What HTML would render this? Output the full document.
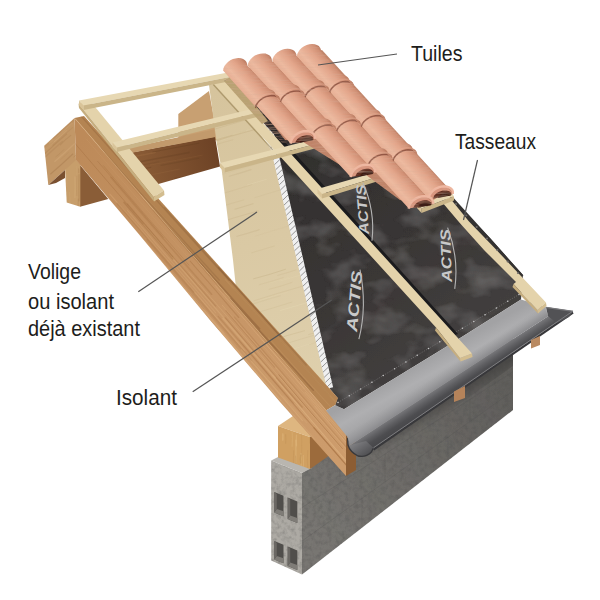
<!DOCTYPE html>
<html><head><meta charset="utf-8"><title>Toiture</title>
<style>html,body{margin:0;padding:0;background:#fff}svg{display:block}</style></head>
<body><svg width="600" height="600" viewBox="0 0 600 600">
<defs>
<filter id="nz" x="0" y="0" width="100%" height="100%">
 <feTurbulence type="fractalNoise" baseFrequency="0.22" numOctaves="4" seed="3" result="t"/>
 <feColorMatrix in="t" type="matrix" values="0 0 0 0 0.08  0 0 0 0 0.08  0 0 0 0 0.08  0.85 0 0 0 -0.34" result="a"/>
 <feComposite in="a" in2="SourceGraphic" operator="in" result="b"/>
 <feMerge><feMergeNode in="SourceGraphic"/><feMergeNode in="b"/></feMerge>
</filter>
<filter id="tz" x="0" y="0" width="100%" height="100%">
 <feTurbulence type="fractalNoise" baseFrequency="0.06 0.7" numOctaves="2" seed="5" result="t"/>
 <feColorMatrix in="t" type="matrix" values="0 0 0 0 0.68  0 0 0 0 0.42  0 0 0 0 0.31  0.8 0 0 0 -0.34" result="a"/>
 <feComposite in="a" in2="SourceGraphic" operator="in" result="b"/>
 <feMerge><feMergeNode in="SourceGraphic"/><feMergeNode in="b"/></feMerge>
</filter>
<filter id="wr" x="0" y="0" width="100%" height="100%">
 <feTurbulence type="fractalNoise" baseFrequency="0.03 0.045" numOctaves="3" seed="8" result="t"/>
 <feColorMatrix in="t" type="matrix" values="0 0 0 0 0.45  0 0 0 0 0.43  0 0 0 0 0.43  0.42 0 0 0 -0.19" result="a"/>
 <feComposite in="a" in2="SourceGraphic" operator="in" result="b"/>
 <feMerge><feMergeNode in="SourceGraphic"/><feMergeNode in="b"/></feMerge>
</filter>
<linearGradient id="wallg" gradientUnits="userSpaceOnUse" x1="302" y1="520" x2="512" y2="370">
 <stop offset="0" stop-color="#787672"/><stop offset="1" stop-color="#5f5d5a"/></linearGradient>
<linearGradient id="wsh" gradientUnits="userSpaceOnUse" x1="440" y1="402" x2="447" y2="414">
 <stop offset="0" stop-color="#3a3938" stop-opacity="0.55"/><stop offset="1" stop-color="#3a3938" stop-opacity="0"/></linearGradient>
<linearGradient id="purl" gradientUnits="userSpaceOnUse" x1="79" y1="190" x2="215" y2="150">
 <stop offset="0" stop-color="#9b6a40"/><stop offset="0.5" stop-color="#875934"/><stop offset="1" stop-color="#6e4326"/></linearGradient>
<linearGradient id="vol" gradientUnits="userSpaceOnUse" x1="215" y1="90" x2="320" y2="390">
 <stop offset="0" stop-color="#d6c49d"/><stop offset="0.5" stop-color="#dac9a4"/><stop offset="1" stop-color="#dfd0ad"/></linearGradient>
<linearGradient id="memb" gradientUnits="userSpaceOnUse" x1="300" y1="150" x2="480" y2="380">
 <stop offset="0" stop-color="#322f2e"/><stop offset="0.5" stop-color="#3a3736"/><stop offset="1" stop-color="#454241"/></linearGradient>
<linearGradient id="raft" gradientUnits="userSpaceOnUse" x1="80" y1="140" x2="346" y2="455">
 <stop offset="0" stop-color="#bd8a59"/><stop offset="0.5" stop-color="#c69566"/><stop offset="1" stop-color="#cd9c6c"/></linearGradient>
<linearGradient id="flash" gradientUnits="userSpaceOnUse" x1="400" y1="375" x2="414" y2="400">
 <stop offset="0" stop-color="#a2a2a4"/><stop offset="0.5" stop-color="#afafb1"/><stop offset="1" stop-color="#a4a4a6"/></linearGradient>
<linearGradient id="gutin" gradientUnits="userSpaceOnUse" x1="450" y1="380.1" x2="457.4" y2="391.5">
 <stop offset="0" stop-color="#77777a"/><stop offset="0.35" stop-color="#606063"/><stop offset="0.7" stop-color="#4d4d50"/><stop offset="1" stop-color="#48484b"/></linearGradient>
<linearGradient id="gutu" gradientUnits="userSpaceOnUse" x1="352" y1="440" x2="364" y2="457">
 <stop offset="0" stop-color="#8a8a8c"/><stop offset="0.5" stop-color="#6c6c6f"/><stop offset="1" stop-color="#505053"/></linearGradient>
<linearGradient id="flashe" gradientUnits="userSpaceOnUse" x1="443.5" y1="370.1" x2="450" y2="380.1">
 <stop offset="0" stop-color="#9a9a9c" stop-opacity="0"/><stop offset="1" stop-color="#8a8a8d" stop-opacity="1"/></linearGradient>
<linearGradient id="gut" gradientUnits="userSpaceOnUse" x1="420" y1="395" x2="434" y2="420">
 <stop offset="0" stop-color="#6f6f72"/><stop offset="0.35" stop-color="#4c4c4f"/><stop offset="1" stop-color="#3c3c3f"/></linearGradient>
<linearGradient id="tg3" gradientUnits="userSpaceOnUse" x1="295.0" y1="58.1" x2="314.2" y2="40.3"><stop offset="0" stop-color="#cf9074"/><stop offset="0.1" stop-color="#e8b095"/><stop offset="0.3" stop-color="#edbaa0"/><stop offset="0.62" stop-color="#e3a58a"/><stop offset="0.86" stop-color="#d08f74"/><stop offset="1" stop-color="#b4755b"/></linearGradient>
<linearGradient id="tg2" gradientUnits="userSpaceOnUse" x1="270.4" y1="62.8" x2="289.6" y2="45.0"><stop offset="0" stop-color="#cf9074"/><stop offset="0.1" stop-color="#e8b095"/><stop offset="0.3" stop-color="#edbaa0"/><stop offset="0.62" stop-color="#e3a58a"/><stop offset="0.86" stop-color="#d08f74"/><stop offset="1" stop-color="#b4755b"/></linearGradient>
<linearGradient id="tg1" gradientUnits="userSpaceOnUse" x1="245.8" y1="67.5" x2="265.0" y2="49.7"><stop offset="0" stop-color="#cf9074"/><stop offset="0.1" stop-color="#e8b095"/><stop offset="0.3" stop-color="#edbaa0"/><stop offset="0.62" stop-color="#e3a58a"/><stop offset="0.86" stop-color="#d08f74"/><stop offset="1" stop-color="#b4755b"/></linearGradient>
<linearGradient id="tg0" gradientUnits="userSpaceOnUse" x1="221.2" y1="72.2" x2="240.4" y2="54.4"><stop offset="0" stop-color="#cf9074"/><stop offset="0.1" stop-color="#e8b095"/><stop offset="0.3" stop-color="#edbaa0"/><stop offset="0.62" stop-color="#e3a58a"/><stop offset="0.86" stop-color="#d08f74"/><stop offset="1" stop-color="#b4755b"/></linearGradient><clipPath id="cpw"><polygon points="302.0,473.0 513.0,325.0 513.0,410.0 302.0,574.5"/></clipPath><clipPath id="cp1"><polygon points="278.0,426.0 310.0,437.0 310.0,469.0 278.0,457.5"/></clipPath><clipPath id="cp2"><polygon points="44.2,145.8 74.5,118.0 76.0,160.0 48.3,185.0"/></clipPath><clipPath id="cp3"><polygon points="65.0,167.5 72.5,161.7 80.0,170.0 80.0,206.7 66.7,202.5"/></clipPath><clipPath id="cp4"><polygon points="100.0,158.5 215.0,136.7 220.0,166.5 157.5,184.2 140.0,195.0"/></clipPath><clipPath id="cp5"><polygon points="209.0,85.0 224.0,81.0 276.0,157.0 331.0,392.0 318.0,400.0 236.0,288.0 233.0,260.0 221.7,170.0 216.7,143.0"/></clipPath><clipPath id="cp6"><polygon points="74.5,118.0 346.0,433.0 346.0,476.0 280.0,402.0 210.0,320.0 140.0,235.5 76.0,160.0"/></clipPath><clipPath id="cp7"><polygon points="74.5,118.0 84.0,116.0 338.0,398.0 335.3,405.0 326.0,410.5"/></clipPath></defs>
<rect width="600" height="600" fill="#ffffff"/>
<polygon points="302.0,473.0 513.0,325.0 513.0,410.0 302.0,574.5" fill="url(#wallg)" filter="url(#nz)"/>
<path d="M302,507.5 L513,371.7 M302,541.0 L513,390.9 M340,451.2 L340,483.1 M385,454.1 L385,481.9 M362,498.3 L362,527.7 M430,399.6 L430,425.1 M470,399.4 L470,421.5 M448,437.1 L448,460.7 M495,362.3 L495,383.3" clip-path="url(#cpw)" stroke="#4f4d4b" stroke-width="0.7" fill="none" opacity="0.3"/>
<polygon points="372.0,449.0 513.0,352.5 513.0,366.0 372.0,466.0" fill="url(#wsh)" />
<polygon points="271.2,460.5 302.0,473.0 302.0,574.5 271.2,560.5" fill="#adaaa4" filter="url(#nz)"/>
<polygon points="274.3,492.0 283.5,495.8 283.5,516.3 274.3,512.5" fill="#504e4b" />
<polygon points="276.8,509.0 283.5,511.3 283.5,516.3 274.3,512.5" fill="#7f7c77" />
<polygon points="274.3,492.0 276.8,494.0 276.8,509.0 274.3,512.5" fill="#6b6864" />
<polygon points="287.7,497.5 297.3,501.4 297.3,522.9 287.7,519.0" fill="#504e4b" />
<polygon points="290.2,515.5 297.3,517.9 297.3,522.9 287.7,519.0" fill="#7f7c77" />
<polygon points="287.7,497.5 290.2,499.5 290.2,515.5 287.7,519.0" fill="#6b6864" />
<polygon points="274.3,541.0 283.5,544.8 283.5,563.3 274.3,559.5" fill="#504e4b" />
<polygon points="276.8,556.0 283.5,558.3 283.5,563.3 274.3,559.5" fill="#7f7c77" />
<polygon points="274.3,541.0 276.8,543.0 276.8,556.0 274.3,559.5" fill="#6b6864" />
<polygon points="287.7,546.5 297.3,550.4 297.3,569.9 287.7,566.0" fill="#504e4b" />
<polygon points="290.2,562.5 297.3,564.9 297.3,569.9 287.7,566.0" fill="#7f7c77" />
<polygon points="287.7,546.5 290.2,548.5 290.2,562.5 287.7,566.0" fill="#6b6864" />
<polygon points="271.2,460.5 280.0,456.0 312.0,468.0 302.0,473.0" fill="#b9b6b0" />
<polygon points="278.0,426.0 293.0,416.0 330.0,428.0 310.0,437.0" fill="#deb680" />
<polygon points="278.0,426.0 310.0,437.0 310.0,469.0 278.0,457.5" fill="#d0a062" />
<polygon points="310.0,437.0 330.0,425.0 330.0,455.0 310.0,469.0" fill="#9c6b3c" />
<g clip-path="url(#cp1)" fill="none" stroke-linecap="round"><path d="M295.5,456.0 Q296.0,464.7 295.5,473.3" stroke="#a87a44" stroke-width="1.06" opacity="0.30"/><path d="M293.6,450.8 Q293.2,460.2 293.6,469.5" stroke="#a87a44" stroke-width="0.83" opacity="0.18"/><path d="M287.8,463.9 Q288.3,467.6 287.8,471.2" stroke="#f0cf98" stroke-width="1.22" opacity="0.31"/><path d="M309.5,426.4 Q309.6,434.7 309.5,443.1" stroke="#a87a44" stroke-width="0.77" opacity="0.17"/><path d="M295.9,440.1 Q296.0,451.5 295.9,462.9" stroke="#f0cf98" stroke-width="1.05" opacity="0.32"/><path d="M301.1,453.4 Q301.5,466.3 301.1,479.2" stroke="#f0cf98" stroke-width="1.28" opacity="0.24"/><path d="M300.8,455.2 Q300.1,459.1 300.8,463.0" stroke="#a87a44" stroke-width="1.43" opacity="0.25"/><path d="M282.9,433.7 Q283.0,436.9 282.9,440.2" stroke="#f0cf98" stroke-width="1.02" opacity="0.40"/><path d="M307.7,450.4 Q307.0,459.7 307.7,469.0" stroke="#a87a44" stroke-width="0.60" opacity="0.24"/><path d="M285.7,434.6 Q286.2,439.0 285.7,443.4" stroke="#a87a44" stroke-width="0.57" opacity="0.35"/><path d="M292.1,431.2 Q292.7,438.8 292.1,446.4" stroke="#f0cf98" stroke-width="0.64" opacity="0.31"/><path d="M296.5,435.1 Q296.0,440.4 296.5,445.7" stroke="#f0cf98" stroke-width="1.38" opacity="0.23"/><path d="M303.3,455.3 Q303.7,462.4 303.3,469.4" stroke="#f0cf98" stroke-width="0.61" opacity="0.40"/><path d="M301.7,434.5 Q301.6,445.2 301.7,455.9" stroke="#a87a44" stroke-width="0.58" opacity="0.18"/></g>
<polygon points="178.3,114.0 209.0,91.0 218.0,140.0 178.3,147.0" fill="#c8a072" />
<polygon points="100.0,158.5 215.0,136.7 220.0,166.5 157.5,184.2 140.0,195.0" fill="url(#purl)" />
<polygon points="96.0,155.0 214.0,129.5 215.5,137.0 100.0,158.8" fill="#c29a6c" />
<polygon points="80.0,165.0 108.3,199.0 80.0,206.7" fill="#8a5d37" />
<polygon points="65.0,167.5 72.5,161.7 76.0,159.5 80.3,164.5 80.3,206.7 66.7,202.5" fill="#c79e6b" />
<polygon points="44.2,145.8 74.5,118.0 76.0,160.0 48.3,185.0" fill="#c29767" />
<polygon points="48.3,185.0 65.0,170.0 65.0,178.0 56.0,183.0" fill="#7a5030" />
<g clip-path="url(#cp2)" fill="none" stroke-linecap="round"><path d="M60.4,144.8 Q65.1,139.6 70.8,135.4" stroke="#9c6c40" stroke-width="1.09" opacity="0.22"/><path d="M55.9,156.8 Q60.2,153.6 63.8,149.6" stroke="#9c6c40" stroke-width="0.60" opacity="0.23"/><path d="M54.4,141.5 Q60.9,136.6 66.4,130.7" stroke="#e0b98a" stroke-width="1.13" opacity="0.22"/><path d="M35.3,155.3 Q48.4,144.1 60.9,132.3" stroke="#9c6c40" stroke-width="0.63" opacity="0.20"/><path d="M52.9,145.3 Q62.3,135.9 72.6,127.6" stroke="#9c6c40" stroke-width="1.10" opacity="0.15"/><path d="M44.8,153.7 Q55.4,143.7 66.6,134.1" stroke="#9c6c40" stroke-width="1.14" opacity="0.24"/><path d="M50.6,174.0 Q61.9,164.3 72.8,154.0" stroke="#9c6c40" stroke-width="1.08" opacity="0.32"/><path d="M34.1,166.9 Q48.2,154.2 62.3,141.5" stroke="#9c6c40" stroke-width="1.33" opacity="0.17"/><path d="M53.7,138.4 Q64.7,128.9 75.2,119.0" stroke="#9c6c40" stroke-width="1.46" opacity="0.21"/><path d="M54.9,161.4 Q64.9,152.8 74.5,143.8" stroke="#e0b98a" stroke-width="1.54" opacity="0.24"/><path d="M49.5,143.1 Q60.5,133.0 71.8,123.1" stroke="#e0b98a" stroke-width="1.40" opacity="0.20"/><path d="M60.7,159.5 Q64.8,156.3 68.3,152.6" stroke="#9c6c40" stroke-width="0.63" opacity="0.15"/><path d="M44.5,150.6 Q50.8,145.1 57.0,139.4" stroke="#e0b98a" stroke-width="0.59" opacity="0.23"/><path d="M73.9,156.9 Q86.7,146.2 98.7,134.6" stroke="#9c6c40" stroke-width="0.96" opacity="0.22"/></g>
<g clip-path="url(#cp3)" fill="none" stroke-linecap="round"><path d="M76.6,163.1 Q75.9,176.2 76.6,189.3" stroke="#e0b98a" stroke-width="0.59" opacity="0.16"/><path d="M76.9,175.9 Q76.4,185.7 76.9,195.6" stroke="#9c6c40" stroke-width="1.04" opacity="0.15"/><path d="M78.7,161.3 Q78.8,167.1 78.7,172.8" stroke="#9c6c40" stroke-width="0.95" opacity="0.28"/><path d="M78.3,199.2 Q78.1,205.2 78.3,211.2" stroke="#9c6c40" stroke-width="1.18" opacity="0.19"/><path d="M74.9,176.9 Q75.5,187.2 74.9,197.6" stroke="#e0b98a" stroke-width="1.49" opacity="0.22"/><path d="M79.0,174.8 Q78.7,187.7 79.0,200.7" stroke="#9c6c40" stroke-width="1.54" opacity="0.22"/><path d="M66.8,174.3 Q67.4,180.5 66.8,186.8" stroke="#e0b98a" stroke-width="0.65" opacity="0.26"/><path d="M69.6,192.4 Q70.2,202.9 69.6,213.4" stroke="#e0b98a" stroke-width="1.05" opacity="0.16"/></g>
<g clip-path="url(#cp4)" fill="none" stroke-linecap="round"><path d="M113.5,176.4 Q131.9,173.4 150.1,169.4" stroke="#a87548" stroke-width="0.51" opacity="0.28"/><path d="M152.8,152.0 Q175.7,147.5 198.7,143.2" stroke="#5c3a1e" stroke-width="0.92" opacity="0.33"/><path d="M127.7,185.2 Q140.4,182.9 153.1,180.4" stroke="#5c3a1e" stroke-width="1.06" opacity="0.38"/><path d="M174.5,178.4 Q193.1,175.2 211.6,171.3" stroke="#5c3a1e" stroke-width="0.82" opacity="0.32"/><path d="M129.0,171.6 Q139.8,169.0 150.8,167.4" stroke="#5c3a1e" stroke-width="0.81" opacity="0.35"/><path d="M105.5,196.6 Q136.9,190.5 168.3,184.6" stroke="#5c3a1e" stroke-width="1.04" opacity="0.17"/><path d="M166.8,185.7 Q178.3,183.1 189.9,181.3" stroke="#5c3a1e" stroke-width="1.14" opacity="0.37"/><path d="M154.1,148.5 Q165.0,147.1 175.7,144.4" stroke="#5c3a1e" stroke-width="0.59" opacity="0.28"/><path d="M161.0,165.4 Q179.9,161.9 198.8,158.1" stroke="#5c3a1e" stroke-width="1.14" opacity="0.20"/><path d="M164.1,188.6 Q174.2,187.4 184.1,184.7" stroke="#a87548" stroke-width="0.66" opacity="0.22"/><path d="M178.6,187.5 Q190.2,184.6 202.1,183.0" stroke="#a87548" stroke-width="0.76" opacity="0.31"/><path d="M150.2,165.0 Q176.4,160.6 202.4,155.1" stroke="#a87548" stroke-width="0.60" opacity="0.24"/><path d="M138.8,176.9 Q159.2,173.4 179.4,169.1" stroke="#a87548" stroke-width="1.13" opacity="0.16"/><path d="M119.0,169.4 Q138.9,165.8 158.7,161.8" stroke="#5c3a1e" stroke-width="0.86" opacity="0.18"/><path d="M97.2,163.6 Q126.2,158.4 155.1,152.5" stroke="#a87548" stroke-width="1.39" opacity="0.28"/><path d="M133.6,163.0 Q161.2,157.6 189.0,152.4" stroke="#5c3a1e" stroke-width="1.56" opacity="0.26"/></g>
<polygon points="209.0,85.0 224.0,81.0 276.0,157.0 331.0,392.0 318.0,400.0 236.0,288.0 233.0,260.0 221.7,170.0 216.7,143.0" fill="url(#vol)" />
<g clip-path="url(#cp5)" fill="none" stroke-linecap="round"><path d="M255.1,236.2 Q274.3,230.1 293.6,224.6" stroke="#b9a274" stroke-width="0.41" opacity="0.19"/><path d="M283.3,344.5 Q303.1,338.4 323.0,332.6" stroke="#b9a274" stroke-width="0.93" opacity="0.15"/><path d="M191.6,146.7 Q215.2,139.3 239.1,132.4" stroke="#efe2bd" stroke-width="0.46" opacity="0.24"/><path d="M213.0,224.5 Q235.5,217.1 258.2,210.9" stroke="#b9a274" stroke-width="1.13" opacity="0.21"/><path d="M272.9,409.1 Q297.4,401.9 321.9,394.4" stroke="#b9a274" stroke-width="0.51" opacity="0.18"/><path d="M192.3,146.9 Q212.2,140.8 232.2,134.9" stroke="#b9a274" stroke-width="1.05" opacity="0.19"/><path d="M253.6,278.8 Q269.7,274.7 285.5,269.3" stroke="#b9a274" stroke-width="0.98" opacity="0.29"/><path d="M260.1,300.4 Q273.7,295.9 287.6,292.2" stroke="#efe2bd" stroke-width="0.94" opacity="0.14"/><path d="M254.9,197.6 Q271.4,192.5 288.0,187.6" stroke="#b9a274" stroke-width="0.42" opacity="0.27"/><path d="M251.6,252.7 Q262.9,249.4 274.2,245.9" stroke="#b9a274" stroke-width="1.02" opacity="0.14"/><path d="M192.9,151.7 Q212.6,145.1 232.8,139.8" stroke="#b9a274" stroke-width="0.68" opacity="0.23"/><path d="M237.0,236.3 Q248.3,233.6 259.2,229.6" stroke="#b9a274" stroke-width="1.17" opacity="0.21"/><path d="M206.8,143.9 Q230.7,136.0 255.0,129.5" stroke="#b9a274" stroke-width="1.00" opacity="0.28"/><path d="M216.9,175.9 Q238.2,169.7 259.5,163.1" stroke="#b9a274" stroke-width="0.41" opacity="0.13"/><path d="M290.8,402.5 Q316.4,395.4 341.7,387.3" stroke="#b9a274" stroke-width="0.66" opacity="0.26"/><path d="M269.1,289.3 Q280.8,286.5 292.0,282.4" stroke="#b9a274" stroke-width="0.90" opacity="0.17"/><path d="M279.7,374.8 Q289.9,371.7 300.1,368.6" stroke="#efe2bd" stroke-width="0.62" opacity="0.29"/><path d="M251.8,314.2 Q271.9,308.4 291.9,302.1" stroke="#b9a274" stroke-width="0.60" opacity="0.24"/><path d="M206.6,131.5 Q230.0,124.6 253.4,117.5" stroke="#b9a274" stroke-width="0.75" opacity="0.30"/><path d="M279.8,281.0 Q304.0,274.4 327.8,266.6" stroke="#efe2bd" stroke-width="0.73" opacity="0.23"/><path d="M268.9,341.4 Q286.6,335.4 304.6,330.7" stroke="#b9a274" stroke-width="0.99" opacity="0.22"/><path d="M280.2,310.5 Q304.1,303.8 327.7,296.3" stroke="#efe2bd" stroke-width="1.13" opacity="0.22"/><path d="M234.9,209.2 Q244.0,206.5 253.0,203.7" stroke="#b9a274" stroke-width="1.15" opacity="0.24"/><path d="M269.3,283.2 Q278.8,280.2 288.4,277.5" stroke="#efe2bd" stroke-width="0.72" opacity="0.16"/><path d="M212.4,196.5 Q232.3,190.9 251.9,184.6" stroke="#b9a274" stroke-width="0.65" opacity="0.25"/><path d="M253.9,300.8 Q278.0,293.1 302.4,286.2" stroke="#b9a274" stroke-width="0.79" opacity="0.20"/><path d="M253.2,303.8 Q266.6,299.5 280.2,295.7" stroke="#b9a274" stroke-width="1.16" opacity="0.12"/><path d="M229.2,176.2 Q240.2,173.2 251.1,169.6" stroke="#b9a274" stroke-width="1.14" opacity="0.21"/><path d="M224.9,136.7 Q240.8,132.5 256.3,127.2" stroke="#efe2bd" stroke-width="0.60" opacity="0.20"/><path d="M288.2,350.4 Q299.7,347.2 311.0,343.6" stroke="#efe2bd" stroke-width="0.72" opacity="0.24"/><path d="M305.2,394.3 Q322.6,389.0 339.9,383.8" stroke="#b9a274" stroke-width="0.99" opacity="0.18"/><path d="M218.0,207.8 Q230.7,203.3 243.7,200.0" stroke="#b9a274" stroke-width="0.84" opacity="0.17"/><path d="M308.7,334.5 Q321.4,331.3 333.7,327.0" stroke="#b9a274" stroke-width="0.71" opacity="0.28"/><path d="M247.2,185.1 Q256.7,182.1 266.3,179.4" stroke="#efe2bd" stroke-width="0.89" opacity="0.26"/><path d="M259.3,284.7 Q271.5,281.5 283.4,277.5" stroke="#b9a274" stroke-width="0.71" opacity="0.19"/><path d="M207.7,144.4 Q218.8,141.6 229.7,137.8" stroke="#efe2bd" stroke-width="0.82" opacity="0.13"/><path d="M275.2,368.9 Q297.6,362.7 319.6,355.5" stroke="#efe2bd" stroke-width="0.64" opacity="0.14"/><path d="M309.6,344.5 Q320.6,340.7 331.9,337.8" stroke="#b9a274" stroke-width="0.65" opacity="0.12"/><path d="M205.0,143.0 Q225.5,137.4 245.6,130.8" stroke="#b9a274" stroke-width="0.55" opacity="0.18"/><path d="M277.7,275.4 Q286.9,272.9 296.0,269.9" stroke="#b9a274" stroke-width="0.76" opacity="0.21"/></g>
<polygon points="266.0,118.0 300.0,110.0 449.0,197.0 490.0,238.0 523.0,275.0 521.0,299.5 480.0,325.5 445.0,347.5 400.0,375.0 344.0,409.3 335.0,405.5 337.5,398.0 330.0,389.0 275.0,150.0" fill="url(#memb)" filter="url(#wr)"/>
<path d="M267.5,120 L276,157 L330,388" fill="none" stroke="#f0f0f0" stroke-width="6.4"/>
<path d="M270.2,117.4 L264.8,122.6 M271.4,122.5 L266.0,127.6 M272.5,127.6 L267.1,132.7 M273.7,132.6 L268.3,137.8 M274.9,137.7 L269.5,142.8 M276.0,142.8 L270.6,147.9 M277.2,147.8 L271.8,153.0 M278.3,152.9 L273.0,158.0 M278.7,154.4 L273.3,159.6 M279.9,159.5 L274.5,164.6 M281.1,164.5 L275.7,169.7 M282.2,169.6 L276.9,174.8 M283.4,174.7 L278.1,179.8 M284.6,179.7 L279.2,184.9 M285.8,184.8 L280.4,190.0 M287.0,189.9 L281.6,195.0 M288.2,194.9 L282.8,200.1 M289.3,200.0 L284.0,205.1 M290.5,205.1 L285.2,210.2 M291.7,210.1 L286.3,215.3 M292.9,215.2 L287.5,220.3 M294.1,220.2 L288.7,225.4 M295.3,225.3 L289.9,230.5 M296.4,230.4 L291.1,235.5 M297.6,235.4 L292.3,240.6 M298.8,240.5 L293.4,245.7 M300.0,245.6 L294.6,250.7 M301.2,250.6 L295.8,255.8 M302.4,255.7 L297.0,260.8 M303.5,260.8 L298.2,265.9 M304.7,265.8 L299.4,271.0 M305.9,270.9 L300.5,276.0 M307.1,275.9 L301.7,281.1 M308.3,281.0 L302.9,286.2 M309.5,286.1 L304.1,291.2 M310.6,291.1 L305.3,296.3 M311.8,296.2 L306.5,301.4 M313.0,301.3 L307.6,306.4 M314.2,306.3 L308.8,311.5 M315.4,311.4 L310.0,316.5 M316.6,316.5 L311.2,321.6 M317.7,321.5 L312.4,326.7 M318.9,326.6 L313.6,331.7 M320.1,331.6 L314.7,336.8 M321.3,336.7 L315.9,341.9 M322.5,341.8 L317.1,346.9 M323.7,346.8 L318.3,352.0 M324.8,351.9 L319.5,357.1 M326.0,357.0 L320.7,362.1 M327.2,362.0 L321.8,367.2 M328.4,367.1 L323.0,372.2 M329.6,372.2 L324.2,377.3 M330.8,377.2 L325.4,382.4 M331.9,382.3 L326.6,387.4" fill="none" stroke="#7d7d7d" stroke-width="1.0" opacity="0.8"/>
<polygon points="74.5,118.0 84.0,116.0 338.0,398.0 335.3,405.0 326.0,410.5" fill="#b48452" />
<polygon points="74.5,118.0 346.0,433.0 346.0,476.0 280.0,402.0 210.0,320.0 140.0,235.5 76.0,160.0" fill="url(#raft)" />
<g clip-path="url(#cp6)" fill="none" stroke-linecap="round"><path d="M222.8,318.4 Q294.1,400.1 364.4,482.8" stroke="#e3b785" stroke-width="1.31" opacity="0.38"/><path d="M182.6,264.6 Q267.0,362.0 350.8,459.8" stroke="#e3b785" stroke-width="0.62" opacity="0.27"/><path d="M53.3,118.2 Q112.8,187.8 172.9,256.9" stroke="#9a6638" stroke-width="0.81" opacity="0.38"/><path d="M86.3,139.0 Q160.3,225.7 235.2,311.8" stroke="#e3b785" stroke-width="0.64" opacity="0.16"/><path d="M314.7,406.2 Q350.8,448.2 387.0,490.1" stroke="#e3b785" stroke-width="0.82" opacity="0.39"/><path d="M294.3,403.9 Q329.9,444.8 365.2,486.1" stroke="#e3b785" stroke-width="1.56" opacity="0.37"/><path d="M97.6,161.3 Q131.1,199.0 163.4,237.6" stroke="#9a6638" stroke-width="0.83" opacity="0.30"/><path d="M127.4,210.3 Q171.7,261.6 215.8,312.9" stroke="#e3b785" stroke-width="1.03" opacity="0.24"/><path d="M313.9,427.8 Q340.1,457.2 365.3,487.5" stroke="#9a6638" stroke-width="1.32" opacity="0.36"/><path d="M190.2,288.2 Q235.8,342.1 282.4,395.1" stroke="#9a6638" stroke-width="0.55" opacity="0.20"/><path d="M261.2,343.6 Q332.9,426.8 404.7,510.0" stroke="#e3b785" stroke-width="0.88" opacity="0.25"/><path d="M248.5,355.3 Q277.1,389.5 306.7,422.8" stroke="#e3b785" stroke-width="1.45" opacity="0.17"/><path d="M215.3,285.5 Q259.6,337.0 304.1,388.5" stroke="#e3b785" stroke-width="0.87" opacity="0.38"/><path d="M103.3,165.6 Q145.5,215.8 188.9,265.0" stroke="#9a6638" stroke-width="0.66" opacity="0.33"/><path d="M329.9,421.7 Q354.9,450.9 380.2,480.0" stroke="#9a6638" stroke-width="0.95" opacity="0.22"/><path d="M147.0,239.8 Q199.0,300.1 251.0,360.4" stroke="#9a6638" stroke-width="1.51" opacity="0.17"/><path d="M241.3,349.8 Q272.3,384.9 302.5,420.7" stroke="#e3b785" stroke-width="1.19" opacity="0.35"/><path d="M278.8,374.8 Q310.2,412.1 342.4,448.6" stroke="#9a6638" stroke-width="1.00" opacity="0.40"/><path d="M159.7,261.4 Q211.7,321.4 263.4,381.7" stroke="#e3b785" stroke-width="1.03" opacity="0.23"/><path d="M305.0,392.1 Q351.9,446.2 398.5,500.6" stroke="#e3b785" stroke-width="1.19" opacity="0.28"/><path d="M262.3,339.9 Q301.8,386.5 342.1,432.5" stroke="#e3b785" stroke-width="0.90" opacity="0.35"/><path d="M218.2,316.4 Q283.9,392.6 349.6,468.8" stroke="#9a6638" stroke-width="1.27" opacity="0.23"/><path d="M109.9,194.1 Q177.9,271.9 244.8,350.7" stroke="#e3b785" stroke-width="1.21" opacity="0.30"/><path d="M225.3,317.9 Q263.4,362.8 302.2,407.1" stroke="#9a6638" stroke-width="1.40" opacity="0.32"/><path d="M222.3,305.3 Q286.3,380.4 351.1,454.7" stroke="#e3b785" stroke-width="0.89" opacity="0.36"/><path d="M239.3,340.5 Q325.1,440.9 411.8,540.7" stroke="#9a6638" stroke-width="1.08" opacity="0.20"/><path d="M208.2,315.8 Q261.3,378.1 315.0,439.7" stroke="#e3b785" stroke-width="1.30" opacity="0.20"/><path d="M143.8,224.8 Q209.3,301.4 275.4,377.5" stroke="#e3b785" stroke-width="1.35" opacity="0.31"/><path d="M182.2,244.2 Q214.5,282.0 247.2,319.6" stroke="#e3b785" stroke-width="0.74" opacity="0.32"/><path d="M117.2,169.4 Q170.6,230.6 223.2,292.5" stroke="#9a6638" stroke-width="0.65" opacity="0.24"/><path d="M190.2,261.1 Q214.8,289.0 238.8,317.5" stroke="#9a6638" stroke-width="1.17" opacity="0.30"/><path d="M159.5,257.8 Q181.1,283.6 203.5,308.8" stroke="#9a6638" stroke-width="0.95" opacity="0.19"/><path d="M225.9,310.7 Q250.1,339.0 274.6,367.2" stroke="#9a6638" stroke-width="1.10" opacity="0.24"/><path d="M128.6,224.5 Q204.9,312.2 280.4,400.5" stroke="#e3b785" stroke-width="1.21" opacity="0.25"/><path d="M272.9,375.4 Q331.6,444.3 391.1,512.5" stroke="#e3b785" stroke-width="1.17" opacity="0.24"/><path d="M217.9,284.4 Q246.5,318.5 276.0,351.8" stroke="#e3b785" stroke-width="0.65" opacity="0.31"/><path d="M110.8,177.3 Q160.7,236.2 211.6,294.2" stroke="#9a6638" stroke-width="1.57" opacity="0.25"/><path d="M101.8,191.4 Q163.2,262.2 224.2,333.4" stroke="#e3b785" stroke-width="1.05" opacity="0.26"/><path d="M109.7,203.7 Q164.1,266.7 218.4,329.8" stroke="#9a6638" stroke-width="0.63" opacity="0.31"/><path d="M234.5,317.0 Q307.5,402.7 381.4,487.5" stroke="#9a6638" stroke-width="1.09" opacity="0.23"/><path d="M117.4,203.4 Q155.4,247.8 193.7,291.9" stroke="#9a6638" stroke-width="1.59" opacity="0.23"/><path d="M188.8,272.2 Q253.5,346.8 317.7,421.8" stroke="#e3b785" stroke-width="0.63" opacity="0.34"/><path d="M127.5,203.8 Q171.3,255.2 215.7,306.1" stroke="#9a6638" stroke-width="1.01" opacity="0.25"/><path d="M124.1,202.4 Q148.4,230.7 172.8,259.0" stroke="#9a6638" stroke-width="1.51" opacity="0.37"/><path d="M153.4,210.2 Q226.7,295.2 299.9,380.2" stroke="#9a6638" stroke-width="1.28" opacity="0.31"/><path d="M140.7,236.3 Q187.6,291.6 235.4,346.2" stroke="#e3b785" stroke-width="0.72" opacity="0.23"/></g>
<g clip-path="url(#cp7)" fill="none" stroke-linecap="round"><path d="M150.2,210.0 Q217.7,284.9 285.1,359.8" stroke="#7a5030" stroke-width="0.50" opacity="0.32"/><path d="M230.8,298.6 Q272.2,344.4 313.3,390.2" stroke="#7a5030" stroke-width="1.38" opacity="0.34"/><path d="M100.6,148.3 Q159.6,214.5 219.2,280.0" stroke="#7a5030" stroke-width="1.39" opacity="0.22"/><path d="M122.2,176.1 Q191.0,252.4 259.7,328.8" stroke="#7a5030" stroke-width="1.38" opacity="0.35"/><path d="M218.5,267.7 Q249.8,301.8 280.4,336.5" stroke="#7a5030" stroke-width="1.55" opacity="0.30"/><path d="M268.5,337.8 Q308.8,383.0 349.5,427.7" stroke="#c99a68" stroke-width="1.07" opacity="0.31"/><path d="M60.3,110.5 Q136.7,195.5 213.3,280.3" stroke="#7a5030" stroke-width="1.16" opacity="0.23"/><path d="M164.5,207.7 Q235.7,286.1 306.2,365.0" stroke="#7a5030" stroke-width="1.23" opacity="0.23"/><path d="M117.7,165.9 Q144.9,196.8 172.8,227.1" stroke="#c99a68" stroke-width="1.27" opacity="0.16"/><path d="M272.3,325.5 Q311.3,368.6 350.1,411.9" stroke="#c99a68" stroke-width="0.84" opacity="0.25"/><path d="M73.3,107.4 Q150.6,194.3 229.0,280.3" stroke="#7a5030" stroke-width="1.32" opacity="0.26"/><path d="M225.4,279.4 Q301.7,364.8 378.7,449.6" stroke="#c99a68" stroke-width="1.48" opacity="0.27"/><path d="M159.4,220.3 Q208.8,275.7 258.7,330.5" stroke="#c99a68" stroke-width="0.95" opacity="0.18"/><path d="M233.6,289.0 Q281.5,342.3 329.5,395.4" stroke="#7a5030" stroke-width="0.52" opacity="0.19"/></g>
<polygon points="346.0,433.0 356.0,438.0 356.0,470.0 346.0,476.0" fill="#8c5d33" />
<path d="M75.5,119 L346,433.5" fill="none" stroke="#d9b080" stroke-width="0.8" opacity="0.8"/>
<path d="M373.5,449.5 L573,312.5" fill="none" stroke="#38383b" stroke-width="2.2"/>
<path d="M347.5,437 L348,445 Q350,452 358,456 Q366,457.5 371,452.5 L373.5,448 L573,311 L548,316.3 L350.5,445 Z" fill="url(#gutin)" />
<path d="M347.5,437 L348,445 Q350,452 358,456 Q366,457.5 371,452.5 L373.5,448 L366,441 L350.5,445 Z" fill="url(#gutu)" />
<path d="M347.6,438 L348,445 Q350,452 358,456 Q366,457.5 371,452.5 L373.3,448.4" fill="none" stroke="#39393c" stroke-width="1.3"/>
<polygon points="335.3,405.0 344.0,409.3 400.0,375.0 445.0,347.5 480.0,325.5 521.0,299.5 546.0,307.0 548.0,316.3 350.5,445.0 347.5,437.0 326.0,410.5" fill="url(#flash)" />
<polygon points="345.0,432.0 544.0,305.0 548.0,316.3 350.5,445.0" fill="url(#flashe)" />
<polygon points="546.0,307.0 573.0,311.0 569.0,317.0 557.0,323.0 548.0,316.3" fill="#525255" />
<path d="M546,307.3 L573,311.3" fill="none" stroke="#77777a" stroke-width="1.2"/>
<path d="M373.5,447.8 L573,311" fill="none" stroke="#7c7c7f" stroke-width="1"/>
<polygon points="531.0,340.0 540.0,336.0 540.0,345.0 531.0,348.5" fill="#b98a62" />
<polygon points="454.0,391.5 465.0,386.0 465.0,398.0 454.0,402.0" fill="#b5835a" />
<circle cx="338.0" cy="402.5" r="0.8" fill="#c8c8c8"/>
<circle cx="349.3" cy="395.8" r="0.8" fill="#c8c8c8"/>
<circle cx="360.6" cy="389.0" r="0.8" fill="#c8c8c8"/>
<circle cx="371.9" cy="382.2" r="0.8" fill="#c8c8c8"/>
<circle cx="383.2" cy="375.5" r="0.8" fill="#c8c8c8"/>
<circle cx="394.6" cy="368.8" r="0.8" fill="#c8c8c8"/>
<circle cx="405.9" cy="362.0" r="0.8" fill="#c8c8c8"/>
<circle cx="417.2" cy="355.2" r="0.8" fill="#c8c8c8"/>
<circle cx="428.5" cy="348.5" r="0.8" fill="#c8c8c8"/>
<circle cx="439.8" cy="341.8" r="0.8" fill="#c8c8c8"/>
<circle cx="451.1" cy="335.0" r="0.8" fill="#c8c8c8"/>
<circle cx="462.4" cy="328.2" r="0.8" fill="#c8c8c8"/>
<circle cx="473.8" cy="321.5" r="0.8" fill="#c8c8c8"/>
<circle cx="485.1" cy="314.8" r="0.8" fill="#c8c8c8"/>
<circle cx="496.4" cy="308.0" r="0.8" fill="#c8c8c8"/>
<circle cx="507.7" cy="301.2" r="0.8" fill="#c8c8c8"/>
<circle cx="519.0" cy="294.5" r="0.8" fill="#c8c8c8"/>
<path d="M338,402.5 L519,294.5" fill="none" stroke="#bdbdbd" stroke-width="0.5" stroke-dasharray="1 1.5" opacity="0.7"/>
<polygon points="78.5,103.5 91.0,102.0 164.0,190.5 153.5,197.0" fill="#e4d3ab" />
<polygon points="78.5,103.5 153.5,197.0 154.0,201.5 79.0,108.0" fill="#c6ae7f" />
<polygon points="153.5,197.0 164.0,190.5 164.5,195.0 154.0,201.5" fill="#d3bd8f" />
<polygon points="277.0,139.0 455.0,335.0 458.0,334.0 281.0,138.0" fill="#1b1b1d" />
<path d="M213.3,84.5 L276,153.5" fill="none" stroke="#9c8759" stroke-width="1.3" opacity="0.7"/>
<polygon points="214.0,83.7 224.5,80.7 472.0,353.5 460.0,358.0 436.0,327.5" fill="#e4d3ab" />
<polygon points="436.0,327.5 460.0,358.0 460.5,361.5 435.0,330.5" fill="#c6ae7f" />
<polygon points="460.0,358.0 472.0,353.5 472.5,357.0 460.5,361.5" fill="#d3bd8f" />
<polygon points="449.0,197.0 469.0,221.5 496.0,249.5 518.0,277.0 523.5,275.5 490.0,238.0 455.0,199.5 452.0,196.0" fill="#343231" />
<polygon points="442.0,202.0 449.0,197.0 469.0,221.5 496.0,249.5 546.0,302.5 537.5,310.0 513.5,284.0 516.0,282.0 484.0,250.0 460.0,223.3" fill="#e4d3ab" />
<polygon points="513.5,284.0 537.5,310.0 538.0,313.5 512.5,287.0" fill="#c6ae7f" />
<polygon points="537.5,310.0 546.0,302.5 546.5,306.0 538.0,313.5" fill="#d3bd8f" />
<circle cx="456.0" cy="204.0" r="1.1" fill="#6a6766"/>
<circle cx="466.3" cy="215.5" r="1.1" fill="#6a6766"/>
<circle cx="476.7" cy="227.0" r="1.1" fill="#6a6766"/>
<circle cx="487.0" cy="238.5" r="1.1" fill="#6a6766"/>
<circle cx="497.3" cy="250.0" r="1.1" fill="#6a6766"/>
<circle cx="507.7" cy="261.5" r="1.1" fill="#6a6766"/>
<circle cx="518.0" cy="273.0" r="1.1" fill="#6a6766"/>
<polygon points="79.0,100.5 228.0,72.5 231.0,76.7 83.5,105.5" fill="#e7d8b3" />
<polygon points="83.5,105.5 231.0,76.7 231.0,81.0 83.5,110.0" fill="#cab589" />
<polygon points="79.0,100.5 83.5,105.5 83.5,110.0 79.0,105.0" fill="#d9c499" />
<polygon points="112.5,142.5 262.0,106.5 265.0,110.7 117.0,147.5" fill="#e7d8b3" />
<polygon points="117.0,147.5 265.0,110.7 265.0,115.0 117.0,152.0" fill="#cab589" />
<polygon points="112.5,142.5 117.0,147.5 117.0,152.0 112.5,147.0" fill="#d9c499" />
<polygon points="220.0,163.0 322.0,137.3 325.0,141.5 224.5,168.0" fill="#e7d8b3" />
<polygon points="224.5,168.0 325.0,141.5 325.0,145.8 224.5,172.5" fill="#cab589" />
<polygon points="220.0,163.0 224.5,168.0 224.5,172.5 220.0,167.5" fill="#d9c499" />
<polygon points="317.5,189.0 382.0,170.5 385.0,174.7 322.0,194.0" fill="#e7d8b3" />
<polygon points="322.0,194.0 385.0,174.7 385.0,179.0 322.0,198.5" fill="#cab589" />
<polygon points="317.5,189.0 322.0,194.0 322.0,198.5 317.5,193.5" fill="#d9c499" />
<polygon points="417.0,203.5 451.0,192.0 454.0,196.2 421.5,208.5" fill="#e7d8b3" />
<polygon points="421.5,208.5 454.0,196.2 454.0,200.5 421.5,213.0" fill="#cab589" />
<polygon points="417.0,203.5 421.5,208.5 421.5,213.0 417.0,208.0" fill="#d9c499" />
<g filter="url(#tz)">
<polygon points="224.5,80.7 236.0,76.0 300.0,140.0 282.0,143.0" fill="#2f2c2b" />
<polygon points="224.0,81.0 232.0,76.0 268.0,121.0 262.0,124.0" fill="#b9a273" />
<polygon points="232.0,72.0 322.0,50.0 450.0,190.0 425.0,205.0 400.0,200.0 362.0,172.0 345.0,168.0 300.0,140.0 285.0,140.0" fill="#c08469" />
<polygon points="428.6,198.8 429.0,196.5 430.0,194.3 431.6,192.1 433.6,190.2 435.9,188.6 438.6,187.4 441.3,186.6 444.0,186.3 446.6,186.6 448.9,187.3 450.8,188.5 452.2,190.0 453.0,191.9 453.2,194.0" fill="#d8957e" />
<polygon points="433.3,198.4 433.6,197.0 434.3,195.6 435.5,194.3 436.9,193.0 438.7,192.0 440.6,191.2 442.7,190.6 444.7,190.4 446.6,190.5 448.3,190.9 449.7,191.6 450.7,192.5 451.3,193.7 451.5,195.0" fill="#5e2d20" />
<polygon points="438.0,197.9 438.2,197.0 438.7,196.1 439.5,195.2 440.6,194.4 441.8,193.7 443.2,193.1 444.6,192.8 446.0,192.6 447.3,192.6 448.5,192.9 449.5,193.3 450.2,193.9 450.7,194.6 450.8,195.5" fill="#3c1a12" />
<polygon points="389.1,155.4 389.4,153.2 390.4,150.9 391.9,148.8 393.9,146.9 396.2,145.3 398.7,144.1 401.4,143.3 404.0,143.1 406.5,143.3 408.7,144.0 410.6,145.2 411.9,146.8 412.7,148.7 412.9,150.8 453.2,194.0 453.0,191.9 452.2,190.0 450.8,188.5 448.9,187.3 446.6,186.6 444.0,186.3 441.3,186.6 438.6,187.4 435.9,188.6 433.6,190.2 431.6,192.1 430.0,194.3 429.0,196.5 428.6,198.8" fill="url(#tg3)" />
<path d="M428.6,198.8 L429.0,196.5 L430.0,194.3 L431.6,192.1 L433.6,190.2 L435.9,188.6 L438.6,187.4 L441.3,186.6 L444.0,186.3 L446.6,186.6 L448.9,187.3 L450.8,188.5 L452.2,190.0 L453.0,191.9 L453.2,194.0" fill="none" stroke="#efb8a2" stroke-width="2.4"/>
<path d="M392.6,162.3 L393.1,160.0 L394.1,157.8 L395.7,155.6 L397.8,153.7 L400.3,152.0 L403.0,150.8 L405.9,150.0 L408.7,149.7 L411.4,149.9 L413.8,150.6 L415.8,151.8" fill="none" stroke="#7d4333" stroke-width="1.5" opacity="0.75"/>
<polygon points="357.5,121.3 357.8,119.0 358.8,116.8 360.3,114.7 362.3,112.8 364.6,111.2 367.1,109.9 369.8,109.2 372.4,108.9 374.9,109.2 377.1,109.9 379.0,111.1 380.3,112.7 381.1,114.6 381.3,116.7 417.3,155.2 417.1,153.0 416.2,151.1 414.8,149.6 412.8,148.4 410.4,147.7 407.7,147.5 404.9,147.8 402.0,148.6 399.3,149.8 396.8,151.5 394.7,153.4 393.1,155.6 392.1,157.8 391.6,160.1" fill="url(#tg3)" />
<path d="M391.6,160.1 L392.1,157.8 L393.1,155.6 L394.7,153.4 L396.8,151.5 L399.3,149.8 L402.0,148.6 L404.9,147.8 L407.7,147.5 L410.4,147.7 L412.8,148.4 L414.8,149.6" fill="none" stroke="#f0b9a3" stroke-width="0.8" opacity="0.35"/>
<path d="M361.0,128.1 L361.4,125.9 L362.5,123.6 L364.1,121.5 L366.2,119.6 L368.7,117.9 L371.4,116.7 L374.3,115.9 L377.1,115.6 L379.8,115.8 L382.2,116.5 L384.2,117.7" fill="none" stroke="#7d4333" stroke-width="1.5" opacity="0.75"/>
<polygon points="325.9,87.1 326.2,84.9 327.2,82.7 328.7,80.5 330.7,78.6 333.0,77.0 335.5,75.8 338.2,75.1 340.8,74.8 343.3,75.1 345.5,75.8 347.4,77.0 348.7,78.6 349.5,80.5 349.7,82.6 385.7,121.0 385.5,118.9 384.6,117.0 383.2,115.5 381.2,114.3 378.8,113.6 376.1,113.4 373.3,113.7 370.4,114.5 367.7,115.7 365.2,117.4 363.1,119.3 361.5,121.4 360.4,123.7 360.0,125.9" fill="url(#tg3)" />
<path d="M360.0,125.9 L360.4,123.7 L361.5,121.4 L363.1,119.3 L365.2,117.4 L367.7,115.7 L370.4,114.5 L373.3,113.7 L376.1,113.4 L378.8,113.6 L381.2,114.3 L383.2,115.5" fill="none" stroke="#f0b9a3" stroke-width="0.8" opacity="0.35"/>
<path d="M329.4,94.0 L329.8,91.8 L330.9,89.5 L332.5,87.4 L334.6,85.4 L337.1,83.8 L339.8,82.5 L342.7,81.8 L345.5,81.5 L348.2,81.7 L350.6,82.4 L352.6,83.5" fill="none" stroke="#7d4333" stroke-width="1.5" opacity="0.75"/>
<polygon points="296.9,56.4 297.3,54.1 298.3,51.9 299.8,49.8 301.8,47.8 304.1,46.2 306.7,45.0 309.4,44.3 312.1,44.0 314.7,44.2 316.9,45.0 318.8,46.1 320.1,47.7 320.9,49.6 321.2,51.7 354.1,86.9 353.9,84.8 353.0,82.9 351.6,81.3 349.6,80.2 347.2,79.5 344.5,79.3 341.7,79.6 338.8,80.3 336.1,81.6 333.6,83.2 331.5,85.2 329.9,87.3 328.8,89.6 328.4,91.8" fill="url(#tg3)" />
<path d="M328.4,91.8 L328.8,89.6 L329.9,87.3 L331.5,85.2 L333.6,83.2 L336.1,81.6 L338.8,80.3 L341.7,79.6 L344.5,79.3 L347.2,79.5 L349.6,80.2 L351.6,81.3" fill="none" stroke="#f0b9a3" stroke-width="0.8" opacity="0.35"/>
<polygon points="408.8,208.6 409.1,206.3 410.1,204.1 411.7,201.9 413.7,200.0 416.1,198.4 418.7,197.2 421.5,196.4 424.2,196.1 426.7,196.4 429.0,197.1 430.9,198.3 432.3,199.8 433.1,201.7 433.4,203.9" fill="#d8957e" />
<polygon points="413.4,208.2 413.7,206.9 414.5,205.4 415.6,204.1 417.1,202.8 418.8,201.8 420.8,201.0 422.8,200.4 424.8,200.2 426.7,200.3 428.4,200.7 429.8,201.4 430.9,202.3 431.5,203.5 431.7,204.8" fill="#5e2d20" />
<polygon points="418.2,207.7 418.4,206.8 418.9,205.9 419.7,205.0 420.7,204.2 421.9,203.5 423.3,203.0 424.7,202.6 426.1,202.4 427.5,202.5 428.6,202.7 429.6,203.1 430.4,203.7 430.8,204.5 430.9,205.3" fill="#3c1a12" />
<polygon points="364.5,160.1 364.8,157.9 365.8,155.6 367.3,153.5 369.3,151.6 371.6,150.0 374.1,148.8 376.8,148.0 379.4,147.8 381.9,148.0 384.1,148.7 386.0,149.9 387.3,151.5 388.1,153.4 388.3,155.5 433.4,203.9 433.1,201.7 432.3,199.8 430.9,198.3 429.0,197.1 426.7,196.4 424.2,196.1 421.5,196.4 418.7,197.2 416.1,198.4 413.7,200.0 411.7,201.9 410.1,204.1 409.1,206.3 408.8,208.6" fill="url(#tg2)" />
<path d="M408.8,208.6 L409.1,206.3 L410.1,204.1 L411.7,201.9 L413.7,200.0 L416.1,198.4 L418.7,197.2 L421.5,196.4 L424.2,196.1 L426.7,196.4 L429.0,197.1 L430.9,198.3 L432.3,199.8 L433.1,201.7 L433.4,203.9" fill="none" stroke="#efb8a2" stroke-width="2.4"/>
<path d="M368.0,167.0 L368.5,164.7 L369.5,162.5 L371.1,160.3 L373.2,158.4 L375.7,156.7 L378.4,155.5 L381.3,154.7 L384.1,154.4 L386.8,154.6 L389.2,155.3 L391.2,156.5" fill="none" stroke="#7d4333" stroke-width="1.5" opacity="0.75"/>
<polygon points="332.9,126.0 333.2,123.7 334.2,121.5 335.7,119.4 337.7,117.5 340.0,115.9 342.5,114.6 345.2,113.9 347.8,113.6 350.3,113.9 352.5,114.6 354.4,115.8 355.7,117.4 356.5,119.3 356.7,121.4 392.7,159.9 392.5,157.7 391.6,155.8 390.2,154.3 388.2,153.1 385.8,152.4 383.1,152.2 380.3,152.5 377.4,153.3 374.7,154.5 372.2,156.2 370.1,158.1 368.5,160.3 367.5,162.5 367.0,164.8" fill="url(#tg2)" />
<path d="M367.0,164.8 L367.5,162.5 L368.5,160.3 L370.1,158.1 L372.2,156.2 L374.7,154.5 L377.4,153.3 L380.3,152.5 L383.1,152.2 L385.8,152.4 L388.2,153.1 L390.2,154.3" fill="none" stroke="#f0b9a3" stroke-width="0.8" opacity="0.35"/>
<path d="M336.4,132.8 L336.8,130.6 L337.9,128.3 L339.5,126.2 L341.6,124.3 L344.1,122.6 L346.8,121.4 L349.7,120.6 L352.5,120.3 L355.2,120.5 L357.6,121.2 L359.6,122.4" fill="none" stroke="#7d4333" stroke-width="1.5" opacity="0.75"/>
<polygon points="301.3,91.8 301.6,89.6 302.6,87.4 304.1,85.2 306.1,83.3 308.4,81.7 310.9,80.5 313.6,79.8 316.2,79.5 318.7,79.8 320.9,80.5 322.8,81.7 324.1,83.3 324.9,85.2 325.1,87.3 361.1,125.7 360.9,123.6 360.0,121.7 358.6,120.2 356.6,119.0 354.2,118.3 351.5,118.1 348.7,118.4 345.8,119.2 343.1,120.4 340.6,122.1 338.5,124.0 336.9,126.1 335.8,128.4 335.4,130.6" fill="url(#tg2)" />
<path d="M335.4,130.6 L335.8,128.4 L336.9,126.1 L338.5,124.0 L340.6,122.1 L343.1,120.4 L345.8,119.2 L348.7,118.4 L351.5,118.1 L354.2,118.3 L356.6,119.0 L358.6,120.2" fill="none" stroke="#f0b9a3" stroke-width="0.8" opacity="0.35"/>
<path d="M304.8,98.7 L305.2,96.5 L306.3,94.2 L307.9,92.1 L310.0,90.1 L312.5,88.5 L315.2,87.2 L318.1,86.5 L320.9,86.2 L323.6,86.4 L326.0,87.1 L328.0,88.2" fill="none" stroke="#7d4333" stroke-width="1.5" opacity="0.75"/>
<polygon points="272.3,61.1 272.7,58.8 273.7,56.6 275.2,54.5 277.2,52.5 279.5,50.9 282.1,49.7 284.8,49.0 287.5,48.7 290.1,48.9 292.3,49.7 294.2,50.8 295.5,52.4 296.3,54.3 296.6,56.4 329.5,91.6 329.3,89.5 328.4,87.6 327.0,86.0 325.0,84.9 322.6,84.2 319.9,84.0 317.1,84.3 314.2,85.0 311.5,86.3 309.0,87.9 306.9,89.9 305.3,92.0 304.2,94.3 303.8,96.5" fill="url(#tg2)" />
<path d="M303.8,96.5 L304.2,94.3 L305.3,92.0 L306.9,89.9 L309.0,87.9 L311.5,86.3 L314.2,85.0 L317.1,84.3 L319.9,84.0 L322.6,84.2 L325.0,84.9 L327.0,86.0" fill="none" stroke="#f0b9a3" stroke-width="0.8" opacity="0.35"/>
<polygon points="350.7,177.1 351.1,174.9 352.1,172.6 353.6,170.5 355.6,168.6 358.0,167.0 360.6,165.7 363.4,165.0 366.1,164.7 368.7,164.9 371.0,165.6 372.9,166.8 374.2,168.4 375.1,170.3 375.3,172.4" fill="#d8957e" />
<polygon points="355.4,176.8 355.7,175.4 356.4,174.0 357.5,172.6 359.0,171.4 360.8,170.4 362.7,169.5 364.7,169.0 366.8,168.8 368.7,168.8 370.4,169.2 371.8,169.9 372.8,170.9 373.4,172.0 373.6,173.3" fill="#5e2d20" />
<polygon points="360.1,176.3 360.3,175.4 360.8,174.5 361.6,173.6 362.6,172.8 363.9,172.1 365.2,171.5 366.7,171.2 368.1,171.0 369.4,171.0 370.6,171.3 371.6,171.7 372.3,172.3 372.7,173.0 372.9,173.9" fill="#3c1a12" />
<polygon points="308.3,130.7 308.6,128.4 309.6,126.2 311.1,124.1 313.1,122.2 315.4,120.6 317.9,119.3 320.6,118.6 323.2,118.3 325.7,118.6 327.9,119.3 329.8,120.5 331.1,122.1 331.9,124.0 332.1,126.1 375.3,172.4 375.1,170.3 374.2,168.4 372.9,166.8 371.0,165.6 368.7,164.9 366.1,164.7 363.4,165.0 360.6,165.7 358.0,167.0 355.6,168.6 353.6,170.5 352.1,172.6 351.1,174.9 350.7,177.1" fill="url(#tg1)" />
<path d="M350.7,177.1 L351.1,174.9 L352.1,172.6 L353.6,170.5 L355.6,168.6 L358.0,167.0 L360.6,165.7 L363.4,165.0 L366.1,164.7 L368.7,164.9 L371.0,165.6 L372.9,166.8 L374.2,168.4 L375.1,170.3 L375.3,172.4" fill="none" stroke="#efb8a2" stroke-width="2.4"/>
<path d="M311.8,137.5 L312.2,135.3 L313.3,133.0 L314.9,130.9 L317.0,129.0 L319.5,127.3 L322.2,126.1 L325.1,125.3 L327.9,125.0 L330.6,125.2 L333.0,125.9 L335.0,127.1" fill="none" stroke="#7d4333" stroke-width="1.5" opacity="0.75"/>
<polygon points="276.7,96.5 277.0,94.3 278.0,92.1 279.5,89.9 281.5,88.0 283.8,86.4 286.3,85.2 289.0,84.5 291.6,84.2 294.1,84.5 296.3,85.2 298.2,86.4 299.5,88.0 300.3,89.9 300.5,92.0 336.5,130.4 336.3,128.3 335.4,126.4 334.0,124.9 332.0,123.7 329.6,123.0 326.9,122.8 324.1,123.1 321.2,123.9 318.5,125.1 316.0,126.8 313.9,128.7 312.3,130.8 311.2,133.1 310.8,135.3" fill="url(#tg1)" />
<path d="M310.8,135.3 L311.2,133.1 L312.3,130.8 L313.9,128.7 L316.0,126.8 L318.5,125.1 L321.2,123.9 L324.1,123.1 L326.9,122.8 L329.6,123.0 L332.0,123.7 L334.0,124.9" fill="none" stroke="#f0b9a3" stroke-width="0.8" opacity="0.35"/>
<path d="M280.2,103.4 L280.6,101.2 L281.7,98.9 L283.3,96.8 L285.4,94.8 L287.9,93.2 L290.6,91.9 L293.5,91.2 L296.3,90.9 L299.0,91.1 L301.4,91.8 L303.4,92.9" fill="none" stroke="#7d4333" stroke-width="1.5" opacity="0.75"/>
<polygon points="247.7,65.8 248.1,63.5 249.1,61.3 250.6,59.2 252.6,57.2 254.9,55.6 257.5,54.4 260.2,53.7 262.9,53.4 265.5,53.6 267.7,54.4 269.6,55.5 270.9,57.1 271.7,59.0 272.0,61.1 304.9,96.3 304.7,94.2 303.8,92.3 302.4,90.7 300.4,89.6 298.0,88.9 295.3,88.7 292.5,89.0 289.6,89.7 286.9,91.0 284.4,92.6 282.3,94.6 280.7,96.7 279.6,99.0 279.2,101.2" fill="url(#tg1)" />
<path d="M279.2,101.2 L279.6,99.0 L280.7,96.7 L282.3,94.6 L284.4,92.6 L286.9,91.0 L289.6,89.7 L292.5,89.0 L295.3,88.7 L298.0,88.9 L300.4,89.6 L302.4,90.7" fill="none" stroke="#f0b9a3" stroke-width="0.8" opacity="0.35"/>
<polygon points="290.6,143.5 291.0,141.3 292.0,139.0 293.5,136.9 295.5,135.0 297.9,133.3 300.6,132.1 303.3,131.3 306.0,131.1 308.6,131.3 310.9,132.0 312.8,133.2 314.2,134.8 315.0,136.7 315.2,138.8" fill="#d8957e" />
<polygon points="295.3,143.2 295.6,141.8 296.3,140.4 297.4,139.0 298.9,137.8 300.7,136.7 302.6,135.9 304.6,135.4 306.7,135.1 308.6,135.2 310.3,135.6 311.7,136.3 312.7,137.2 313.3,138.4 313.5,139.7" fill="#5e2d20" />
<polygon points="300.0,142.7 300.2,141.8 300.7,140.8 301.5,140.0 302.6,139.1 303.8,138.4 305.1,137.9 306.6,137.5 308.0,137.4 309.3,137.4 310.5,137.6 311.5,138.1 312.2,138.7 312.6,139.4 312.8,140.2" fill="#3c1a12" />
<polygon points="252.1,101.2 252.4,99.0 253.4,96.8 254.9,94.6 256.9,92.7 259.2,91.1 261.7,89.9 264.4,89.2 267.0,88.9 269.5,89.2 271.7,89.9 273.6,91.1 274.9,92.7 275.7,94.6 275.9,96.7 315.2,138.8 315.0,136.7 314.2,134.8 312.8,133.2 310.9,132.0 308.6,131.3 306.0,131.1 303.3,131.3 300.6,132.1 297.9,133.3 295.5,135.0 293.5,136.9 292.0,139.0 291.0,141.3 290.6,143.5" fill="url(#tg0)" />
<path d="M290.6,143.5 L291.0,141.3 L292.0,139.0 L293.5,136.9 L295.5,135.0 L297.9,133.3 L300.6,132.1 L303.3,131.3 L306.0,131.1 L308.6,131.3 L310.9,132.0 L312.8,133.2 L314.2,134.8 L315.0,136.7 L315.2,138.8" fill="none" stroke="#efb8a2" stroke-width="2.4"/>
<path d="M255.6,108.1 L256.0,105.9 L257.1,103.6 L258.7,101.5 L260.8,99.5 L263.3,97.9 L266.0,96.6 L268.9,95.9 L271.7,95.6 L274.4,95.8 L276.8,96.5 L278.8,97.6" fill="none" stroke="#7d4333" stroke-width="1.5" opacity="0.75"/>
<polygon points="223.1,70.5 223.5,68.2 224.5,66.0 226.0,63.9 228.0,61.9 230.3,60.3 232.9,59.1 235.6,58.4 238.3,58.1 240.9,58.3 243.1,59.1 245.0,60.2 246.3,61.8 247.1,63.7 247.4,65.8 280.3,101.0 280.1,98.9 279.2,97.0 277.8,95.4 275.8,94.3 273.4,93.6 270.7,93.4 267.9,93.7 265.0,94.4 262.3,95.7 259.8,97.3 257.7,99.3 256.1,101.4 255.0,103.7 254.6,105.9" fill="url(#tg0)" />
<path d="M254.6,105.9 L255.0,103.7 L256.1,101.4 L257.7,99.3 L259.8,97.3 L262.3,95.7 L265.0,94.4 L267.9,93.7 L270.7,93.4 L273.4,93.6 L275.8,94.3 L277.8,95.4" fill="none" stroke="#f0b9a3" stroke-width="0.8" opacity="0.35"/>
</g>
<g transform="translate(369,234) rotate(-94)"><text x="0" y="0" font-family="Liberation Sans, Arial, sans-serif" font-weight="bold" font-style="italic" fill="#c9c9c9" textLength="50" lengthAdjust="spacingAndGlyphs" font-size="13.7">ACTIS</text><path d="M-7,2.5 Q22.5,8 51.5,-2.5" stroke="#b5b5b5" stroke-width="1.1" fill="none"/></g>
<g transform="translate(452,282) rotate(-92)"><text x="0" y="0" font-family="Liberation Sans, Arial, sans-serif" font-weight="bold" font-style="italic" fill="#c9c9c9" textLength="53" lengthAdjust="spacingAndGlyphs" font-size="14.2">ACTIS</text><path d="M-7,2.5 Q23.85,8 54.5,-2.5" stroke="#b5b5b5" stroke-width="1.1" fill="none"/></g>
<g transform="translate(357,332) rotate(-85)"><text x="0" y="0" font-family="Liberation Sans, Arial, sans-serif" font-weight="bold" font-style="italic" fill="#c9c9c9" textLength="61" lengthAdjust="spacingAndGlyphs" font-size="15.3">ACTIS</text><path d="M-7,2.5 Q27.45,8 62.5,-2.5" stroke="#b5b5b5" stroke-width="1.1" fill="none"/></g>
<text x="411" y="60.6" font-family="Liberation Sans, Arial, sans-serif" font-size="21.5" fill="#1d1d1b" textLength="51.5" lengthAdjust="spacingAndGlyphs">Tuiles</text>
<text x="455" y="148.5" font-family="Liberation Sans, Arial, sans-serif" font-size="21.5" fill="#1d1d1b" textLength="81" lengthAdjust="spacingAndGlyphs">Tasseaux</text>
<text x="28" y="278.5" font-family="Liberation Sans, Arial, sans-serif" font-size="21.5" fill="#1d1d1b" textLength="53" lengthAdjust="spacingAndGlyphs">Volige</text>
<text x="28" y="309" font-family="Liberation Sans, Arial, sans-serif" font-size="21.5" fill="#1d1d1b" textLength="86" lengthAdjust="spacingAndGlyphs">ou isolant</text>
<text x="28" y="335.5" font-family="Liberation Sans, Arial, sans-serif" font-size="21.5" fill="#1d1d1b" textLength="112" lengthAdjust="spacingAndGlyphs">déjà existant</text>
<text x="116" y="405" font-family="Liberation Sans, Arial, sans-serif" font-size="21.5" fill="#1d1d1b" textLength="61" lengthAdjust="spacingAndGlyphs">Isolant</text>
<line x1="318" y1="65" x2="397" y2="54" stroke="#555555" stroke-width="1.2"/>
<line x1="477.5" y1="160" x2="463.5" y2="220" stroke="#555555" stroke-width="1.2"/>
<line x1="138.3" y1="291.7" x2="257" y2="212" stroke="#555555" stroke-width="1.2"/>
<line x1="192.7" y1="391.7" x2="331.7" y2="300" stroke="#555555" stroke-width="1.2"/>
</svg></body></html>
